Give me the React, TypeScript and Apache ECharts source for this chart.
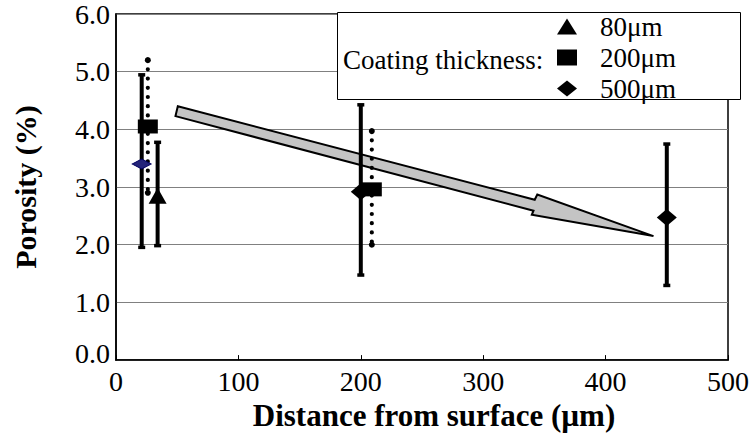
import React, { useEffect, useRef } from 'react';
import * as echarts from 'echarts';

// Data (x = distance µm, y = porosity %, low, high)
const series80 = [[34, 2.85, 1.98, 3.78]];
const series200 = [[26, 4.05, 2.9, 5.2], [209, 2.96, 2.0, 3.97]];
const series500 = [[21, 3.4, 1.95, 4.95], [200, 2.92, 1.47, 4.43], [450, 2.47, 1.29, 3.75]];
const seriesNames = ['80μm', '200μm', '500μm'];
const legendTitle = 'Coating thickness:';
const xTitle = 'Distance from surface (µm)';
const yTitle = 'Porosity (%)';
// Trend arrow outline in data coordinates
const arrowPoints = [
  [50.5, 4.40], [342.1, 2.78], [344.2, 2.87], [439.1, 2.15],
  [339.7, 2.52], [341.1, 2.59], [48.6, 4.23],
];

const FONT = 'Liberation Serif';

function errorBar(dotted: boolean) {
  return (params: any, api: any) => {
    const x = api.value(0);
    const top = api.coord([x, api.value(3)]);
    const bot = api.coord([x, api.value(2)]);
    if (dotted) {
      return {
        type: 'group',
        children: [
          { type: 'line', shape: { x1: top[0], y1: top[1], x2: bot[0], y2: bot[1] },
            style: { stroke: '#000', lineWidth: 4.2, lineCap: 'round', lineDash: [0.01, 9.2] } },
          { type: 'circle', shape: { cx: top[0], cy: top[1], r: 3 }, style: { fill: '#000' } },
          { type: 'circle', shape: { cx: bot[0], cy: bot[1], r: 3 }, style: { fill: '#000' } },
        ],
      };
    }
    return {
      type: 'group',
      children: [
        { type: 'line', shape: { x1: top[0], y1: top[1], x2: bot[0], y2: bot[1] },
          style: { stroke: '#000', lineWidth: 4 } },
        { type: 'rect', shape: { x: top[0] - 3.5, y: top[1] - 1.5, width: 7, height: 3.5 }, style: { fill: '#000' } },
        { type: 'rect', shape: { x: bot[0] - 3.5, y: bot[1] - 2, width: 7, height: 3.5 }, style: { fill: '#000' } },
      ],
    };
  };
}

export default function App() {
  const ref = useRef<HTMLDivElement>(null);
  useEffect(() => {
    const chart = echarts.init(ref.current!, null, { renderer: 'svg' });
    chart.setOption({
      animation: false,
      backgroundColor: '#fff',
      textStyle: { fontFamily: FONT, color: '#000', fontWeight: 'normal' },
      grid: { left: 116, right: 12, top: 12, bottom: 74, show: true, borderColor: '#000', borderWidth: 1.5, backgroundColor: 'transparent' },
      xAxis: {
        type: 'value', min: 0, max: 500, interval: 100,
        name: xTitle, nameLocation: 'middle', nameGap: 37,
        nameTextStyle: { fontFamily: FONT, fontWeight: 'bold', fontSize: 31, color: '#000', padding: [0, 0, 0, 24] },
        axisLine: { show: true, lineStyle: { color: '#000', width: 1.5 } },
        axisTick: { show: true, inside: true, length: 5, lineStyle: { color: '#000' } },
        axisLabel: { fontFamily: FONT, fontWeight: 'normal', fontSize: 28, color: '#000', margin: 7 },
        splitLine: { show: false },
      },
      yAxis: {
        type: 'value', min: 0, max: 6, interval: 1,
        name: yTitle, nameLocation: 'middle', nameGap: 76,
        nameTextStyle: { fontFamily: FONT, fontWeight: 'bold', fontSize: 30, color: '#000' },
        axisLine: { show: true, lineStyle: { color: '#000', width: 1.5 } },
        axisTick: { show: false },
        axisLabel: {
          fontFamily: FONT, fontWeight: 'normal', fontSize: 28, color: '#000', margin: 6,
          formatter: (v: number) => (v === 0 ? '{z|0.0}' : v.toFixed(1)),
          rich: { z: { fontFamily: FONT, fontSize: 28, color: '#000', padding: [0, 0, 14, 0] } },
        },
        splitLine: { show: true, lineStyle: { color: '#808080', width: 1 } },
      },
      legend: {
        orient: 'vertical', left: 552, top: 8, itemWidth: 20, itemHeight: 16, itemGap: 4,
        data: [
          { name: seriesNames[0], icon: 'triangle' },
          { name: seriesNames[1], icon: 'rect' },
          { name: seriesNames[2], icon: 'diamond' },
        ],
        textStyle: { fontFamily: FONT, fontWeight: 'normal', fontSize: 27, color: '#000', lineHeight: 26, padding: [0, 0, 0, 18] },
        z: 5,
      },
      graphic: [
        { type: 'rect', left: 337, top: 12, z: 3, shape: { width: 403, height: 87 }, style: { fill: '#fff', stroke: '#000', lineWidth: 1 } },
        { type: 'text', left: 343, top: 46, z: 4, style: { text: legendTitle, font: `27px ${FONT}`, fill: '#000' } },
      ],
      series: [
        {
          type: 'custom', name: 'arrow', z: 1, silent: true,
          data: [0],
          renderItem: (params: any, api: any) => ({
            type: 'polygon',
            shape: { points: arrowPoints.map((p) => api.coord(p)) },
            style: { fill: '#c4c4c4', stroke: '#000', lineWidth: 2 },
          }),
        },
        { type: 'custom', name: 'eb500', z: 2, data: series500, encode: { x: 0, y: [2, 3] }, renderItem: errorBar(false) },
        { type: 'custom', name: 'eb200', z: 2, data: series200, encode: { x: 0, y: [2, 3] }, renderItem: errorBar(true) },
        { type: 'custom', name: 'eb80', z: 2, data: series80, encode: { x: 0, y: [2, 3] }, renderItem: errorBar(false) },
        {
          type: 'scatter', name: seriesNames[2], z: 3, symbol: 'diamond', symbolSize: [20, 17],
          itemStyle: { color: '#000', opacity: 1 },
          data: series500.map((d, i) => i === 0
            ? { value: [d[0], d[1]], symbolSize: [19, 10], itemStyle: { color: '#24247a', borderColor: '#000060', borderWidth: 1, opacity: 1 } }
            : [d[0], d[1]]),
        },
        {
          type: 'scatter', name: seriesNames[1], z: 4, symbol: 'rect', symbolSize: [20, 14],
          itemStyle: { color: '#000', opacity: 1 },
          data: series200.map((d) => [d[0], d[1]]),
        },
        {
          type: 'scatter', name: seriesNames[0], z: 4, symbol: 'triangle', symbolSize: [18, 16],
          itemStyle: { color: '#000', opacity: 1 },
          data: series80.map((d) => [d[0], d[1]]),
        },
      ],
    });
    return () => chart.dispose();
  }, []);
  return <div ref={ref} style={{ width: 752, height: 436, position: 'absolute', left: 0, top: 0 }} />;
}
